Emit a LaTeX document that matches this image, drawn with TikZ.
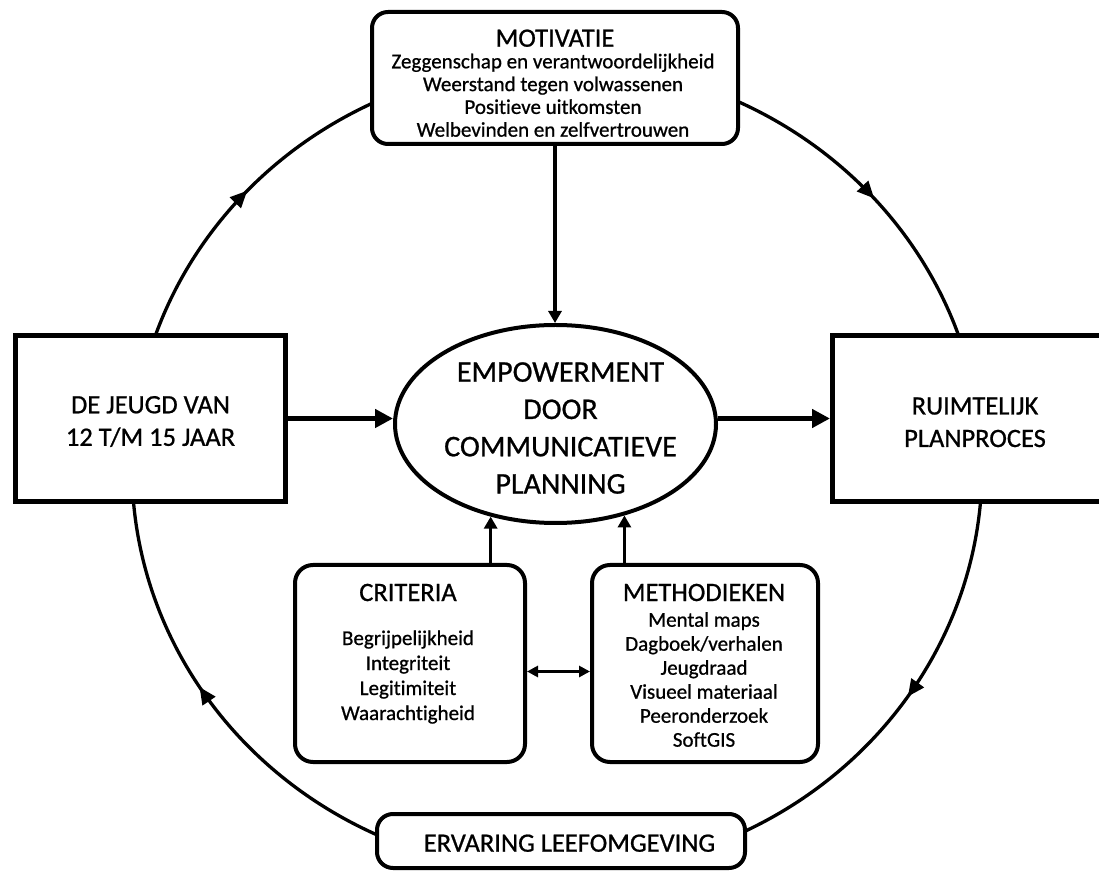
\documentclass[tikz,border=0pt]{standalone}
\usepackage{fontspec}
\setmainfont{Carlito}[Ligatures=NoCommon, FakeBold=0.8]
\usetikzlibrary{arrows.meta,decorations.markings,shapes.geometric,calc}
\begin{document}
\begin{tikzpicture}[x=1pt,y=1pt,
  rbox/.style={draw, line width=4pt, rounded corners=16pt, fill=white, inner sep=0pt},
  sqbox/.style={draw, line width=5pt, fill=white, inner sep=0pt},
  txt/.style={inner sep=0pt, anchor=base, align=center},
  titlef/.style={font=\fontsize{26.5}{32.5}\selectfont},
  ellf/.style={font=\fontsize{30}{37.3}\selectfont},
  motf/.style={font=\fontsize{21}{22.8}\selectfont},
  critf/.style={font=\fontsize{21}{25}\selectfont},
  methf/.style={font=\fontsize{21}{24}\selectfont},
  ringarc/.style={line width=3.3pt,
    decoration={markings, mark=at position #1 with {\arrow{Triangle[length=17pt,width=15pt]}}},
    postaction={decorate}},
  thickarr/.style={line width=5pt, -{Triangle[length=18pt,width=18pt]}},
  varr/.style={line width=3.5pt, -{Triangle[length=12pt,width=13pt]}},
  darr/.style={line width=3pt, {Triangle[length=11pt,width=11pt]}-{Triangle[length=11pt,width=11pt]}}
]
\path[fill=white, use as bounding box] (0,0) rectangle (1099,873);

% outer cycle
\coordinate (ctr) at (557,405);
\draw[ringarc=0.53] ($(ctr)+(163:425 and 405)$) arc[start angle=163, end angle=114, x radius=425, y radius=405];
\draw[ringarc=0.52] ($(ctr)+(68:425 and 405)$)  arc[start angle=68, end angle=17, x radius=425, y radius=405];
\draw[ringarc=0.5]  ($(ctr)+(-2:425 and 405)$)  arc[start angle=-2, end angle=-66, x radius=425, y radius=405];
\draw[ringarc=0.54] ($(ctr)+(-112:425 and 405)$) arc[start angle=-112, end angle=-178, x radius=425, y radius=405];

% boxes
\node[rbox, minimum width=366pt, minimum height=132pt] (mot) at (555,795) {};
\node[sqbox, minimum width=270pt, minimum height=166pt] (lb) at (150.5,454.5) {};
\node[sqbox, minimum width=285pt, minimum height=166pt] (rb) at (975,454.5) {};
\node[draw, ellipse, line width=4pt, fill=white, inner sep=0pt,
      minimum width=321pt, minimum height=198pt] (ell) at (555.5,449) {};
\node[rbox, rounded corners=18pt, minimum width=230pt, minimum height=197pt] (crit) at (410,209.5) {};
\node[rbox, rounded corners=18pt, minimum width=226pt, minimum height=197pt] (meth) at (705,209.5) {};
\node[rbox, minimum width=368pt, minimum height=54pt] (erv) at (561,32) {};

% texts
\node[txt, titlef] (motT) at (555,826.3) {MOTIVATIE};
\node[txt, motf] (motL) at (553,804.7) {\begin{tabular}[t]{@{}c@{}}Zeggenschap en verantwoordelijkheid\\ Weerstand tegen volwassenen\\ Positieve uitkomsten\\ Welbevinden en zelfvertrouwen\end{tabular}};
\node[txt, titlef] (lbT) at (150.5,459.7) {\begin{tabular}[t]{@{}c@{}}DE JEUGD VAN\\ 12 T/M 15 JAAR\end{tabular}};
\node[txt, titlef] (rbT) at (975,458.5) {\begin{tabular}[t]{@{}c@{}}RUIMTELIJK\\ PLANPROCES\end{tabular}};
\node[txt, ellf] (ellT) at (560.5,491.3) {\begin{tabular}[t]{@{}c@{}}EMPOWERMENT\\ DOOR\\ COMMUNICATIEVE\\ PLANNING\end{tabular}};
\node[txt, titlef] (critT) at (408,272) {CRITERIA};
\node[txt, critf] (critL) at (408,228) {\begin{tabular}[t]{@{}c@{}}Begrijpelijkheid\\ Integriteit\\ Legitimiteit\\ Waarachtigheid\end{tabular}};
\node[txt, titlef] (methT) at (704,272) {METHODIEKEN};
\node[txt, methf] (methL) at (704,246.3) {\begin{tabular}[t]{@{}c@{}}Mental maps\\ Dagboek/verhalen\\ Jeugdraad\\ Visueel materiaal\\ Peeronderzoek\\ SoftGIS\end{tabular}};
\node[txt, titlef] (ervT) at (569.5,21.3) {ERVARING LEEFOMGEVING};

% connectors
\draw[thickarr] (lb.east) -- (lb.east -| ell.west);
\draw[thickarr] (rb.west -| ell.east) -- (rb.west);
\draw[varr] (mot.south) -- (mot.south |- ell.north);
\draw[varr] (ell.235 |- crit.north) -- (ell.235);
\draw[varr] (ell.307 |- meth.north) -- (ell.307);
\draw[darr] ([yshift=-8pt]crit.east) -- ([yshift=-8pt]meth.west);
\end{tikzpicture}
\end{document}
